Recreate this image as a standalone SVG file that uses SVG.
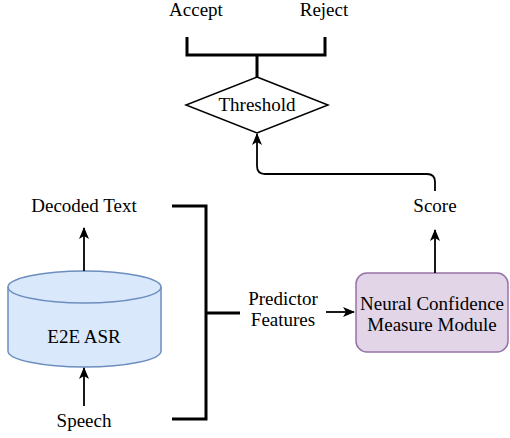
<svg xmlns="http://www.w3.org/2000/svg" width="510" height="438" viewBox="0 0 510 438" font-family="'Liberation Serif', 'Times New Roman', 'DejaVu Serif', serif">
<defs>
<style>
text{font-family:'Liberation Serif','Times New Roman','DejaVu Serif',serif;font-size:19px;fill:#000;text-anchor:middle}
.br{fill:none;stroke:#000;stroke-width:3}
.ar{fill:none;stroke:#000;stroke-width:1.8}
</style>
<marker id="ah" viewBox="0 0 12 10" refX="11" refY="5" markerWidth="12" markerHeight="10" markerUnits="userSpaceOnUse" orient="auto">
<path d="M0,0 L12,5 L0,10 L3,5 Z" fill="#000"/>
</marker>
</defs>
<g id="accept"><text x="196" y="16">Accept</text></g>
<g id="reject"><text x="324" y="16">Reject</text></g>
<g id="threshold"><polygon points="257,77 328,105 257,133 186,105" fill="#fff" stroke="#000" stroke-width="1.5"/><text x="257" y="111">Threshold</text></g>
<g id="decoded"><text x="84" y="212">Decoded Text</text></g>
<g id="speech"><text x="84" y="427">Speech</text></g>
<g id="asr">
<path d="M8,287 A76.5,16 0 0 1 161,287 L161,351 A76.5,16 0 0 1 8,351 Z" fill="#dae8fc" stroke="#6c8ebf" stroke-width="1.5"/>
<path d="M8,287 A76.5,16 0 0 0 161,287" fill="none" stroke="#6c8ebf" stroke-width="1.5"/>
<text x="84" y="343">E2E ASR</text>
</g>
<g id="predictor"><text x="283" y="305">Predictor</text><text x="283" y="326">Features</text></g>
<g id="score"><text x="435" y="212">Score</text></g>
<g id="module"><rect x="356" y="273" width="152" height="79" rx="11" fill="#e1d5e7" stroke="#9673a6" stroke-width="1.5"/><text x="432" y="310">Neural Confidence</text><text x="432" y="331">Measure Module</text></g>
<g id="connectors">
<path class="br" d="M187,37 V55 H325 V37 M257,55 V77"/>
<path class="br" d="M172,206 H206 V419 H172 M206,313 H240"/>
<path class="ar" d="M84,271 V228" marker-end="url(#ah)"/>
<path class="ar" d="M84,406 V368" marker-end="url(#ah)"/>
<path class="ar" d="M326,312 H354" marker-end="url(#ah)"/>
<path class="ar" d="M435,273 V230" marker-end="url(#ah)"/>
<path class="ar" d="M435,191 V182 Q435,174 427,174 H265 Q257,174 257,166 V134" marker-end="url(#ah)"/>
</g>
</svg>
